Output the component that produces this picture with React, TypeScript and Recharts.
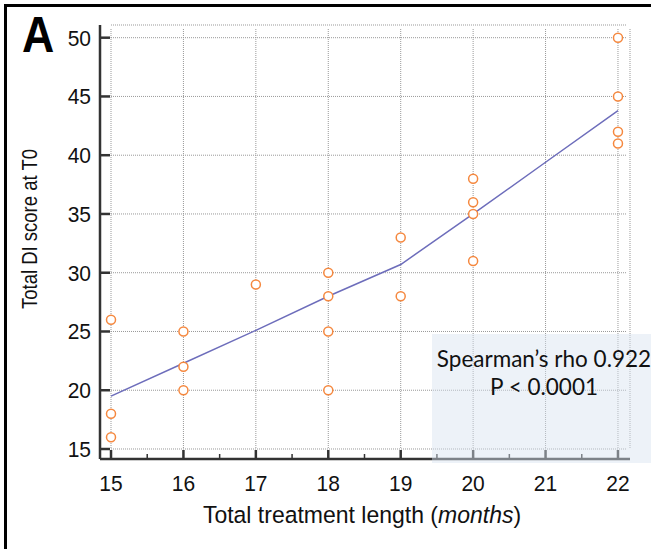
import React from 'react';
import {
  ComposedChart,
  XAxis,
  YAxis,
  CartesianGrid,
  Scatter,
  Line,
} from 'recharts';

// months of treatment vs DI score
const pointMonths = [15, 15, 15, 16, 16, 16, 17, 18, 18, 18, 18, 19, 19, 20, 20, 20, 20, 22, 22, 22, 22];
const pointScores = [26, 18, 16, 25, 22, 20, 29, 30, 28, 25, 20, 33, 28, 38, 36, 35, 31, 50, 45, 42, 41];

// fitted curve
const fitMonths = [15, 16, 17, 18, 19, 20, 21, 22];
const fitScores = [19.5, 22.3, 25.1, 28.0, 30.7, 35.0, 39.4, 43.8];

const xTicks = [15, 16, 17, 18, 19, 20, 21, 22];
const yTicks = [15, 20, 25, 30, 35, 40, 45, 50];

const points = pointMonths.map((x, i) => ({ x, y: pointScores[i] }));
const fit = fitMonths.map((x, i) => ({ x, y: fitScores[i] }));

const AXIS = '#333';
const FONT = '"Liberation Sans", Arial, sans-serif';

const PLOT_LEFT = 100;
const PLOT_BOTTOM = 459;

const YTick = (props: any) => {
  const { y, payload } = props;
  return (
    <g>
      <line x1={PLOT_LEFT} x2={PLOT_LEFT + 10} y1={y} y2={y} stroke={AXIS} strokeWidth={2.5} />
      <text
        x={0}
        y={0}
        transform={`translate(91 ${y + 8}) scale(1 1.08)`}
        textAnchor="end"
        fontSize={21}
        fontFamily={FONT}
        fill="#111"
      >
        {payload.value}
      </text>
    </g>
  );
};

const XTick = (props: any) => {
  const { x, payload } = props;
  const half = 72.43 / 2;
  return (
    <g>
      <line x1={x} x2={x} y1={PLOT_BOTTOM} y2={PLOT_BOTTOM - 9} stroke={AXIS} strokeWidth={2.5} />
      {payload.value < 22 && (
        <line x1={x + half} x2={x + half} y1={PLOT_BOTTOM} y2={PLOT_BOTTOM - 5} stroke={AXIS} strokeWidth={1.5} />
      )}
      <text
        x={0}
        y={0}
        transform={`translate(${x} 491) scale(1 1.08)`}
        textAnchor="middle"
        fontSize={21}
        fontFamily={FONT}
        fill="#111"
      >
        {payload.value}
      </text>
    </g>
  );
};

const Ring = (props: any) => {
  const { cx, cy } = props;
  return <circle cx={cx} cy={cy} r={4.5} fill="#fff" stroke="#f5883f" strokeWidth={1.5} />;
};

export default function App() {
  return (
    <div style={{ position: 'absolute', left: 0, top: 0, width: 651, height: 549, background: '#fff' }}>
      <ComposedChart
        width={651}
        height={549}
        margin={{ top: 25, right: 21, bottom: 0, left: 0 }}
      >
        <CartesianGrid
          x={111}
          y={29}
          width={516}
          height={420}
          stroke="#999"
          strokeDasharray="1 1"
        />
        <XAxis
          type="number"
          dataKey="x"
          domain={[14.848, 22.166]}
          ticks={xTicks}
          interval={0}
          height={90}
          tickLine={false}
          axisLine={{ stroke: AXIS, strokeWidth: 2.5 }}
          tick={<XTick />}
          allowDataOverflow
        />
        <YAxis
          type="number"
          dataKey="y"
          domain={[14.149, 51.08]}
          ticks={yTicks}
          interval={0}
          width={100}
          tickLine={false}
          axisLine={{ stroke: AXIS, strokeWidth: 2.5 }}
          tick={<YTick />}
          allowDataOverflow
        />
        <Line
          data={fit}
          dataKey="y"
          type="linear"
          stroke="#6d6dbb"
          strokeWidth={1.5}
          dot={false}
          activeDot={false}
          isAnimationActive={false}
        />
        <Scatter data={points} dataKey="y" shape={<Ring />} isAnimationActive={false} />
      </ComposedChart>

      <svg width={651} height={549} style={{ position: 'absolute', left: 0, top: 0, pointerEvents: 'none' }}>
        <text x={0} y={0} transform="translate(22 52) scale(0.95 1.05)" fontSize={47} fontWeight="bold" fontFamily={FONT} fill="#000">
          A
        </text>
        <text
          x={0}
          y={0}
          transform="translate(37 229) rotate(-90) scale(1 1.2)"
          textAnchor="middle"
          fontSize={18.5}
          fontFamily={FONT}
          fill="#111"
        >
          Total DI score at T0
        </text>
        <text x={0} y={0} transform="translate(362 523) scale(1 1.06)" textAnchor="middle" fontSize={23} fontFamily={FONT} fill="#111">
          Total treatment length (<tspan fontStyle="italic">months</tspan>)
        </text>
        <rect x={432} y={334} width={219} height={129} fill="#d6e2f0" fillOpacity={0.45} />
        <text x={544} y={367} textAnchor="middle" fontSize={22.5} fontFamily="Lato, sans-serif" fill="#111">
          Spearman’s rho 0.922
        </text>
        <text x={544} y={395} textAnchor="middle" fontSize={22.5} fontFamily="Lato, sans-serif" fill="#111">
          P &lt; 0.0001
        </text>
      </svg>

      <div style={{ position: 'absolute', left: 4, top: 4, width: 647, height: 2.5, background: '#000' }} />
      <div style={{ position: 'absolute', left: 4, top: 4, width: 2.5, height: 545, background: '#000' }} />
    </div>
  );
}
